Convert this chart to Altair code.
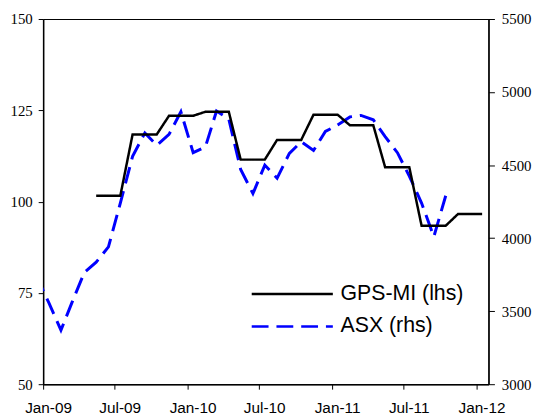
import altair as alt
import pandas as pd

# ---- data ----
series_names = ["GPS-MI (lhs)", "ASX (rhs)"]
series_colors = ["#000000", "#0000ff"]
series_dash = [[1, 0], [17, 8]]

# GPS-MI (left axis), monthly from May 2009
gps_start = "2009-05"
gps_values = [101.6, 101.6, 101.6, 118.4, 118.4, 118.4, 123.5, 123.5, 123.5,
              124.6, 124.6, 124.6, 111.5, 111.5, 111.5, 116.9, 116.9, 116.9,
              123.8, 123.8, 123.8, 120.9, 120.9, 120.9, 109.4, 109.4, 109.4,
              93.4, 93.4, 93.4, 96.6, 96.6, 96.6]

# ASX (right axis), monthly from Dec 2008
asx_start = "2008-12"
asx_values = [3740, 3560, 3370, 3560, 3765, 3835, 3940, 4240, 4560, 4720,
              4635, 4710, 4865, 4585, 4625, 4870, 4815, 4470, 4305, 4500,
              4410, 4580, 4660, 4600, 4730, 4775, 4830, 4840, 4810, 4695,
              4585, 4425, 4240, 4010, 4290]

left_ticks = [50, 75, 100, 125, 150]
right_ticks = [3000, 3500, 4000, 4500, 5000, 5500]
x_tick_months = [(2009, 1), (2009, 7), (2010, 1), (2010, 7), (2011, 1), (2011, 7), (2012, 1)]


def mid_month(start, n):
    base = pd.Timestamp(start + "-01")
    return [(base + pd.DateOffset(months=i) + pd.Timedelta(days=14)).strftime("%Y-%m-%d")
            for i in range(n)]


gps_df = pd.DataFrame({"date": mid_month(gps_start, len(gps_values)),
                       "value": gps_values, "series": series_names[0]})
asx_df = pd.DataFrame({"date": mid_month(asx_start, len(asx_values)),
                       "value": asx_values, "series": series_names[1]})

x_enc = alt.X(
    "date:T",
    title=None,
    scale=alt.Scale(type="utc",
                    domain=[alt.DateTime(year=2009, month=1, date=1, utc=True),
                            alt.DateTime(year=2012, month=1, date=31, utc=True)]),
    axis=alt.Axis(values=[alt.DateTime(year=y, month=m, date=1, utc=True) for y, m in x_tick_months],
                  format="%b-%y", grid=False, tickSize=5, labelPadding=12,
                  labelOffset=5, labelFont="Liberation Sans", labelFontSize=15.5,
                  labelColor="black", domainColor="black", tickColor="black",
                  domainWidth=1.5, labelFlush=False),
)

legend = alt.Legend(title=None, orient="none", legendX=241, legendY=267)

color_enc = alt.Color("series:N", scale=alt.Scale(domain=series_names, range=series_colors),
                      legend=legend)
dash_enc = alt.StrokeDash("series:N", scale=alt.Scale(domain=series_names, range=series_dash),
                          legend=legend)

asx_line = alt.Chart(asx_df).mark_line(strokeWidth=3, strokeCap="butt", clip=True).encode(
    x=x_enc,
    y=alt.Y("value:Q", title=None,
            scale=alt.Scale(domain=[3000, 5500], nice=False, zero=False),
            axis=alt.Axis(orient="right", values=right_ticks, format="d", grid=False, tickSize=6,
                          labelPadding=7, labelFont="Liberation Serif", labelFontSize=15,
                          labelColor="black", domainColor="black", tickColor="black",
                          domainWidth=1.5)),
    color=color_enc,
    strokeDash=dash_enc,
)

gps_line = alt.Chart(gps_df).mark_line(strokeWidth=2.5, strokeCap="butt", clip=True).encode(
    x=x_enc,
    y=alt.Y("value:Q", title=None,
            scale=alt.Scale(domain=[50, 150], nice=False, zero=False),
            axis=alt.Axis(orient="left", values=left_ticks, format="d", grid=False, tickSize=5,
                          labelPadding=6, labelFont="Liberation Serif", labelFontSize=15,
                          labelColor="black", domainColor="black", tickColor="black",
                          domainWidth=1.5)),
    color=color_enc,
    strokeDash=dash_enc,
)

chart = alt.layer(asx_line, gps_line).resolve_scale(y="independent").properties(
    width=450, height=369,
    background="white",
    autosize=alt.AutoSizeParams(type="none"),
    padding={"left": 35.5, "top": 9, "right": 46, "bottom": 30},
).configure_view(stroke="black", strokeWidth=1).configure_legend(
    symbolType="M-8,0H8",
    symbolSize=105,
    symbolStrokeWidth=2.5,
    labelFont="Liberation Sans",
    labelFontSize=21.5,
    labelColor="black",
    labelOffset=38,
    rowPadding=10,
    padding=0,
)

chart.save("out.html", embed_options={"renderer": "svg", "actions": False})
